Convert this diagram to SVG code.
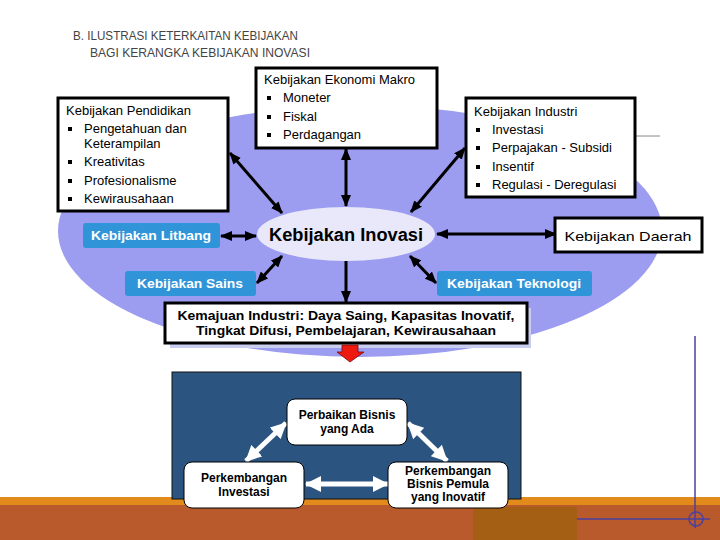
<svg xmlns="http://www.w3.org/2000/svg" width="720" height="540" viewBox="0 0 720 540">
<defs>
<marker id="ah" markerUnits="userSpaceOnUse" markerWidth="12" markerHeight="10" refX="11" refY="5" orient="auto-start-reverse"><path d="M0,0 L12,5 L0,10 Z" fill="#000"/></marker>
<marker id="wh" markerUnits="userSpaceOnUse" markerWidth="16" markerHeight="16" refX="15" refY="8" orient="auto-start-reverse"><path d="M0,0 L16,8 L0,16 Z" fill="#fff"/></marker>
<style>
.t{font-family:"Liberation Sans",Arial,sans-serif;font-size:13px;fill:#000}
.b{font-family:"Liberation Sans",Arial,sans-serif;font-weight:bold;fill:#000}
.w{font-family:"Liberation Sans",Arial,sans-serif;font-weight:bold;font-size:13px;fill:#fff}
.box{fill:#fff;stroke:#000;stroke-width:3}
.btn{fill:#2f95d8}
.wb{fill:#fff;stroke:#000;stroke-width:1}
.con{stroke:#000;stroke-width:3;fill:none}
.wcon{stroke:#fff;stroke-width:5;fill:none}
.ttl{font-family:"Liberation Sans",Arial,sans-serif;font-size:13px;fill:#444}
</style>
</defs>
<rect width="720" height="540" fill="#fff"/>
<!-- background ellipse -->
<ellipse cx="360" cy="231" rx="302" ry="126" fill="#9c9cf0"/>
<!-- title -->
<text class="ttl" x="73" y="40" textLength="225" lengthAdjust="spacingAndGlyphs">B. ILUSTRASI KETERKAITAN KEBIJAKAN</text>
<text class="ttl" x="90" y="57" textLength="220" lengthAdjust="spacingAndGlyphs">BAGI KERANGKA KEBIJAKAN INOVASI</text>
<!-- gray line -->
<line x1="636" y1="136" x2="660" y2="136" stroke="#888" stroke-width="1"/>
<!-- bottom decorations -->
<rect x="0" y="497" width="720" height="9" fill="#e38a1d"/>
<rect x="0" y="505" width="720" height="35" fill="#b95a2c"/>
<rect x="473" y="507" width="104" height="33" fill="#a55f14"/>
<g stroke="#4b3fa0" stroke-width="1.5" fill="none">
<line x1="695" y1="336" x2="695" y2="528"/>
<line x1="577" y1="519" x2="710" y2="519"/>
<circle cx="696" cy="519" r="7"/>
</g>
<!-- dark panel -->
<rect x="172" y="372" width="349" height="127" fill="#2b5480" stroke="#111" stroke-width="1"/>

<g id="connectors">
<line class="con" x1="230" y1="153" x2="282" y2="213" marker-start="url(#ah)" marker-end="url(#ah)"/>
<line class="con" x1="346" y1="149" x2="346" y2="206" marker-start="url(#ah)" marker-end="url(#ah)"/>
<line class="con" x1="465" y1="148" x2="411" y2="212" marker-start="url(#ah)" marker-end="url(#ah)"/>
<line class="con" x1="221" y1="236" x2="256" y2="236" marker-start="url(#ah)" marker-end="url(#ah)"/>
<line class="con" x1="257" y1="283" x2="282" y2="256" marker-start="url(#ah)" marker-end="url(#ah)"/>
<line class="con" x1="410" y1="256" x2="436" y2="283" marker-start="url(#ah)" marker-end="url(#ah)"/>
<line class="con" x1="437" y1="234" x2="556" y2="234" stroke-width="2.5" marker-start="url(#ah)" marker-end="url(#ah)"/>
<line class="con" x1="346" y1="261" x2="346" y2="302" marker-end="url(#ah)"/>
<line class="wcon" x1="246" y1="461" x2="286" y2="423" marker-start="url(#wh)" marker-end="url(#wh)"/>
<line class="wcon" x1="408" y1="423" x2="447" y2="461" marker-start="url(#wh)" marker-end="url(#wh)"/>
<line class="wcon" x1="306" y1="484" x2="388" y2="484" marker-start="url(#wh)" marker-end="url(#wh)"/>
</g>

<g id="pendidikan">
<rect class="box" x="58" y="98" width="170" height="113"/>
<text class="t" x="66" y="115">Kebijakan Pendidikan</text>
<g fill="#000"><rect x="68" y="127" width="4" height="4"/><rect x="68" y="160" width="4" height="4"/><rect x="68" y="179" width="4" height="4"/><rect x="68" y="197" width="4" height="4"/></g>
<text class="t" x="84" y="133">Pengetahuan dan</text>
<text class="t" x="84" y="148">Keterampilan</text>
<text class="t" x="84" y="166">Kreativitas</text>
<text class="t" x="84" y="185">Profesionalisme</text>
<text class="t" x="84" y="203">Kewirausahaan</text>
</g>

<g id="ekonomi">
<rect class="box" x="256" y="68" width="181" height="80"/>
<text class="t" x="264" y="84">Kebijakan Ekonomi Makro</text>
<g fill="#000"><rect x="267" y="96" width="4" height="4"/><rect x="267" y="115" width="4" height="4"/><rect x="267" y="133" width="4" height="4"/></g>
<text class="t" x="283" y="102">Moneter</text>
<text class="t" x="283" y="121">Fiskal</text>
<text class="t" x="283" y="139">Perdagangan</text>
</g>

<g id="industri">
<rect class="box" x="466" y="98" width="169" height="99"/>
<text class="t" x="474" y="116">Kebijakan Industri</text>
<g fill="#000"><rect x="476" y="128" width="4" height="4"/><rect x="476" y="146" width="4" height="4"/><rect x="476" y="165" width="4" height="4"/><rect x="476" y="183" width="4" height="4"/></g>
<text class="t" x="492" y="134">Investasi</text>
<text class="t" x="492" y="152">Perpajakan - Subsidi</text>
<text class="t" x="492" y="171">Insentif</text>
<text class="t" x="492" y="189">Regulasi - Deregulasi</text>
</g>

<g id="daerah">
<rect class="box" x="555" y="218" width="147" height="34"/>
<text class="t" x="628" y="241" font-size="15" text-anchor="middle" textLength="127" lengthAdjust="spacingAndGlyphs">Kebijakan Daerah</text>
</g>

<g id="inovasi">
<ellipse cx="346" cy="234" rx="89" ry="27" fill="#e8e8fa"/>
<text class="b" x="346" y="241" font-size="18" text-anchor="middle" textLength="154" lengthAdjust="spacingAndGlyphs">Kebijakan Inovasi</text>
</g>

<g id="litbang">
<rect class="btn" x="83" y="223" width="137" height="25" rx="3"/>
<text class="w" x="151" y="240" text-anchor="middle" textLength="120" lengthAdjust="spacingAndGlyphs">Kebijakan Litbang</text>
</g>

<g id="sains">
<rect class="btn" x="125" y="271" width="131" height="25" rx="3"/>
<text class="w" x="190" y="288" text-anchor="middle" textLength="106" lengthAdjust="spacingAndGlyphs">Kebijakan Sains</text>
</g>

<g id="teknologi">
<rect class="btn" x="437" y="271" width="155" height="25" rx="3"/>
<text class="w" x="514" y="288" text-anchor="middle" textLength="134" lengthAdjust="spacingAndGlyphs">Kebijakan Teknologi</text>
</g>

<g id="kemajuan">
<rect x="170" y="308" width="361" height="40" fill="#c9cdee"/>
<rect class="box" x="165" y="303" width="362" height="40"/>
<text class="b" x="346" y="320" font-size="13" text-anchor="middle" textLength="337" lengthAdjust="spacingAndGlyphs">Kemajuan Industri: Daya Saing, Kapasitas Inovatif,</text>
<text class="b" x="346" y="335" font-size="13" text-anchor="middle" textLength="300" lengthAdjust="spacingAndGlyphs">Tingkat Difusi, Pembelajaran, Kewirausahaan</text>
</g>

<g id="red-arrow">
<path d="M342,345 H358 V352 H364 L350,362 L337,352 H342 Z" fill="#ee1a10" stroke="#7a0a0a" stroke-width="0.8"/>
</g>

<g id="perbaikan">
<rect class="wb" x="287" y="399" width="120" height="46" rx="8"/>
<text class="b" x="347" y="419" font-size="12" text-anchor="middle">Perbaikan Bisnis</text>
<text class="b" x="347" y="433" font-size="12" text-anchor="middle">yang Ada</text>
</g>

<g id="investasi">
<rect class="wb" x="184" y="462" width="120" height="46" rx="8"/>
<text class="b" x="244" y="482" font-size="12" text-anchor="middle">Perkembangan</text>
<text class="b" x="244" y="496" font-size="12" text-anchor="middle">Investasi</text>
</g>

<g id="pemula">
<rect class="wb" x="388" y="462" width="120" height="46" rx="8"/>
<text class="b" x="448" y="475" font-size="12" text-anchor="middle">Perkembangan</text>
<text class="b" x="448" y="488" font-size="12" text-anchor="middle">Bisnis Pemula</text>
<text class="b" x="448" y="501" font-size="12" text-anchor="middle">yang Inovatif</text>
</g>
</svg>
